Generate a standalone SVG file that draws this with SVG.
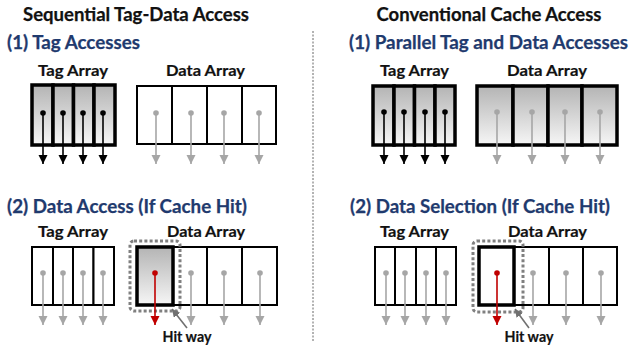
<svg xmlns="http://www.w3.org/2000/svg" width="631" height="350" viewBox="0 0 631 350">
  <style>
    .title { font-family: Lato, "Liberation Sans", sans-serif; font-weight: bold; font-size: 18px; fill: #111; text-anchor: middle; stroke: #111; stroke-width: 0.25; }
    .step { font-family: Lato, "Liberation Sans", sans-serif; font-weight: bold; font-size: 18px; fill: #1F3A6E; stroke: #1F3A6E; stroke-width: 0.25; }
    .label { font-family: Lato, "Liberation Sans", sans-serif; font-weight: bold; font-size: 15.5px; fill: #111; text-anchor: middle; stroke: #111; stroke-width: 0.2; }
    .cell-thick { stroke: #000; stroke-width: 3.5; }
    .cell-thin { stroke: #000; stroke-width: 2; fill: #fff; }
    .shade { fill: url(#shade); }
    .w-black { stroke: #000; stroke-width: 1.6; marker-end: url(#tri-black); }
    .w-gray { stroke: #A6A6A6; stroke-width: 1.6; marker-end: url(#tri-gray); }
    .w-red { stroke: #C00000; stroke-width: 1.6; marker-end: url(#tri-red); }
    .dot-black { fill: #000; }
    .dot-gray { fill: #A6A6A6; }
    .dot-red { fill: #C00000; }
    .hit-box { fill: none; stroke: #808080; stroke-width: 3; stroke-dasharray: 3 2.2; }
    .pointer { stroke: #707070; stroke-width: 1.6; marker-end: url(#tri-pointer); }
    .divider { stroke: #666; stroke-width: 1; stroke-dasharray: 2 1.5; }
  </style>
  <defs>
    <linearGradient id="shade" x1="0" y1="0" x2="0" y2="1">
      <stop offset="0" stop-color="#B4B4B4"/>
      <stop offset="1" stop-color="#F6F6F6"/>
    </linearGradient>
    <marker id="tri-black" viewBox="0 0 10 10" refX="10" refY="5" markerWidth="9" markerHeight="10" markerUnits="userSpaceOnUse" orient="auto">
      <path d="M0,0 L10,5 L0,10 z" fill="#000"/>
    </marker>
    <marker id="tri-gray" viewBox="0 0 10 10" refX="10" refY="5" markerWidth="9" markerHeight="10" markerUnits="userSpaceOnUse" orient="auto">
      <path d="M0,0 L10,5 L0,10 z" fill="#A6A6A6"/>
    </marker>
    <marker id="tri-red" viewBox="0 0 10 10" refX="10" refY="5" markerWidth="9" markerHeight="10" markerUnits="userSpaceOnUse" orient="auto">
      <path d="M0,0 L10,5 L0,10 z" fill="#C00000"/>
    </marker>
    <marker id="tri-pointer" viewBox="0 0 10 10" refX="10" refY="5" markerWidth="8" markerHeight="8" markerUnits="userSpaceOnUse" orient="auto">
      <path d="M0,0 L10,5 L0,10 z" fill="#707070"/>
    </marker>
  </defs>

  <!-- headings -->
  <g id="headings">
    <text class="title" x="136" y="21" textLength="226" lengthAdjust="spacingAndGlyphs">Sequential Tag-Data Access</text>
    <text class="title" x="489" y="21" textLength="225" lengthAdjust="spacingAndGlyphs">Conventional Cache Access</text>
    <text class="step" x="7" y="49" textLength="133" lengthAdjust="spacingAndGlyphs">(1) Tag Accesses</text>
    <text class="step" x="349" y="49" textLength="279" lengthAdjust="spacingAndGlyphs">(1) Parallel Tag and Data Accesses</text>
    <text class="step" x="7" y="213" textLength="240" lengthAdjust="spacingAndGlyphs">(2) Data Access (If Cache Hit)</text>
    <text class="step" x="350" y="213" textLength="260" lengthAdjust="spacingAndGlyphs">(2) Data Selection (If Cache Hit)</text>
  </g>

  <line class="divider" x1="313" y1="31" x2="313" y2="341"/>

  <!-- Sequential, step 1: tag array (accessed) -->
  <g id="seq1-tag">
    <text class="label" x="73" y="76" textLength="70" lengthAdjust="spacingAndGlyphs">Tag Array</text>
    <rect class="shade cell-thick" x="32" y="85" width="21" height="60"/>
    <rect class="shade cell-thick" x="53" y="85" width="20.5" height="60"/>
    <rect class="shade cell-thick" x="73.5" y="85" width="20.5" height="60"/>
    <rect class="shade cell-thick" x="94" y="85" width="21" height="60"/>
  </g>
  <!-- Sequential, step 1: data array (idle) -->
  <g id="seq1-data">
    <text class="label" x="205.5" y="76" textLength="79" lengthAdjust="spacingAndGlyphs">Data Array</text>
    <rect class="cell-thin" x="137" y="86" width="35" height="58"/>
    <rect class="cell-thin" x="172" y="86" width="35" height="58"/>
    <rect class="cell-thin" x="207" y="86" width="35" height="58"/>
    <rect class="cell-thin" x="242" y="86" width="34" height="58"/>
  </g>

  <!-- Conventional, step 1: tag array -->
  <g id="conv1-tag">
    <text class="label" x="414.5" y="76" textLength="69" lengthAdjust="spacingAndGlyphs">Tag Array</text>
    <rect class="shade cell-thick" x="373" y="86" width="21" height="59"/>
    <rect class="shade cell-thick" x="394" y="86" width="20.5" height="59"/>
    <rect class="shade cell-thick" x="414.5" y="86" width="20.5" height="59"/>
    <rect class="shade cell-thick" x="435" y="86" width="20" height="59"/>
  </g>
  <!-- Conventional, step 1: data array -->
  <g id="conv1-data">
    <text class="label" x="547" y="76" textLength="80" lengthAdjust="spacingAndGlyphs">Data Array</text>
    <rect class="shade cell-thick" x="477" y="86" width="36" height="59"/>
    <rect class="shade cell-thick" x="513" y="86" width="35" height="59"/>
    <rect class="shade cell-thick" x="548" y="86" width="34" height="59"/>
    <rect class="shade cell-thick" x="582" y="86" width="35" height="59"/>
  </g>

  <!-- Sequential, step 2: tag array -->
  <g id="seq2-tag">
    <text class="label" x="73" y="237" textLength="70" lengthAdjust="spacingAndGlyphs">Tag Array</text>
    <rect class="cell-thin" x="32" y="247" width="21" height="58"/>
    <rect class="cell-thin" x="53" y="247" width="20" height="58"/>
    <rect class="cell-thin" x="73" y="247" width="20.5" height="58"/>
    <rect class="cell-thin" x="93.5" y="247" width="20.5" height="58"/>
  </g>
  <!-- Sequential, step 2: data array with hit way -->
  <g id="seq2-data">
    <text class="label" x="206" y="237" textLength="78" lengthAdjust="spacingAndGlyphs">Data Array</text>
    <rect class="cell-thin" x="173" y="247" width="34" height="58"/>
    <rect class="cell-thin" x="207" y="247" width="35" height="58"/>
    <rect class="cell-thin" x="242" y="247" width="35" height="58"/>
    <rect class="shade cell-thick" x="137" y="247" width="36" height="58"/>
    <rect class="hit-box" x="130" y="241" width="50" height="70" rx="4"/>
  </g>

  <!-- Conventional, step 2: tag array -->
  <g id="conv2-tag">
    <text class="label" x="414.5" y="237" textLength="69" lengthAdjust="spacingAndGlyphs">Tag Array</text>
    <rect class="cell-thin" x="375" y="247" width="20" height="58"/>
    <rect class="cell-thin" x="395" y="247" width="21" height="58"/>
    <rect class="cell-thin" x="416" y="247" width="20" height="58"/>
    <rect class="cell-thin" x="436" y="247" width="20" height="58"/>
  </g>
  <!-- Conventional, step 2: data array with hit way -->
  <g id="conv2-data">
    <text class="label" x="547.5" y="237" textLength="79" lengthAdjust="spacingAndGlyphs">Data Array</text>
    <rect class="cell-thin" x="514" y="247" width="35" height="58"/>
    <rect class="cell-thin" x="549" y="247" width="34" height="58"/>
    <rect class="cell-thin" x="583" y="247" width="34" height="58"/>
    <rect class="cell-thick" fill="#fff" x="479" y="247" width="35" height="58"/>
    <rect class="hit-box" x="473" y="241" width="50" height="71" rx="4"/>
  </g>

  <!-- hit-way callouts -->
  <g id="seq2-hitway">
    <text class="label" x="187" y="342" font-size="14.5" textLength="49" lengthAdjust="spacingAndGlyphs">Hit way</text>
  </g>
  <g id="conv2-hitway">
    <text class="label" x="529" y="342" font-size="14.5" textLength="49" lengthAdjust="spacingAndGlyphs">Hit way</text>
  </g>

  <!-- connectors: way read-out wires -->
  <g id="connectors">
    <!-- sequential step 1 -->
    <line class="w-black" x1="43" y1="113" x2="43" y2="164"/>
    <line class="w-black" x1="63" y1="113" x2="63" y2="164"/>
    <line class="w-black" x1="83" y1="113" x2="83" y2="164"/>
    <line class="w-black" x1="103" y1="113" x2="103" y2="164"/>
    <line class="w-gray" x1="156" y1="113" x2="156" y2="164"/>
    <line class="w-gray" x1="191" y1="113" x2="191" y2="164"/>
    <line class="w-gray" x1="224" y1="113" x2="224" y2="164"/>
    <line class="w-gray" x1="259" y1="113" x2="259" y2="164"/>
    <!-- conventional step 1 -->
    <line class="w-black" x1="384" y1="112" x2="384" y2="164"/>
    <line class="w-black" x1="404" y1="112" x2="404" y2="164"/>
    <line class="w-black" x1="425" y1="112" x2="425" y2="164"/>
    <line class="w-black" x1="445" y1="112" x2="445" y2="164"/>
    <line class="w-gray" x1="497" y1="112" x2="497" y2="164"/>
    <line class="w-gray" x1="532" y1="112" x2="532" y2="164"/>
    <line class="w-gray" x1="565" y1="112" x2="565" y2="164"/>
    <line class="w-gray" x1="600" y1="112" x2="600" y2="164"/>
    <!-- sequential step 2 -->
    <line class="w-gray" x1="43" y1="273" x2="43" y2="325"/>
    <line class="w-gray" x1="63" y1="273" x2="63" y2="325"/>
    <line class="w-gray" x1="83" y1="273" x2="83" y2="325"/>
    <line class="w-gray" x1="103" y1="273" x2="103" y2="325"/>
    <line class="w-red" x1="155" y1="273" x2="155" y2="325"/>
    <line class="w-gray" x1="191" y1="273" x2="191" y2="325"/>
    <line class="w-gray" x1="224" y1="273" x2="224" y2="325"/>
    <line class="w-gray" x1="260" y1="273" x2="260" y2="325"/>
    <!-- conventional step 2 -->
    <line class="w-gray" x1="386" y1="273" x2="386" y2="325"/>
    <line class="w-gray" x1="405" y1="273" x2="405" y2="325"/>
    <line class="w-gray" x1="426" y1="273" x2="426" y2="325"/>
    <line class="w-gray" x1="446" y1="273" x2="446" y2="325"/>
    <line class="w-red" x1="497" y1="273" x2="497" y2="325"/>
    <line class="w-gray" x1="533" y1="273" x2="533" y2="325"/>
    <line class="w-gray" x1="566" y1="273" x2="566" y2="325"/>
    <line class="w-gray" x1="601" y1="273" x2="601" y2="325"/>
    <!-- hit-way pointers -->
    <line class="pointer" x1="187" y1="328" x2="172" y2="309"/>
    <line class="pointer" x1="529" y1="328" x2="515" y2="309"/>
  </g>

  <!-- wire taps -->
  <g id="taps">
    <circle class="dot-black" cx="43" cy="113" r="2.8"/>
    <circle class="dot-black" cx="63" cy="113" r="2.8"/>
    <circle class="dot-black" cx="83" cy="113" r="2.8"/>
    <circle class="dot-black" cx="103" cy="113" r="2.8"/>
    <circle class="dot-gray" cx="156" cy="113" r="2.8"/>
    <circle class="dot-gray" cx="191" cy="113" r="2.8"/>
    <circle class="dot-gray" cx="224" cy="113" r="2.8"/>
    <circle class="dot-gray" cx="259" cy="113" r="2.8"/>
    <circle class="dot-black" cx="384" cy="112" r="2.8"/>
    <circle class="dot-black" cx="404" cy="112" r="2.8"/>
    <circle class="dot-black" cx="425" cy="112" r="2.8"/>
    <circle class="dot-black" cx="445" cy="112" r="2.8"/>
    <circle class="dot-gray" cx="497" cy="112" r="2.8"/>
    <circle class="dot-gray" cx="532" cy="112" r="2.8"/>
    <circle class="dot-gray" cx="565" cy="112" r="2.8"/>
    <circle class="dot-gray" cx="600" cy="112" r="2.8"/>
    <circle class="dot-gray" cx="43" cy="273" r="2.8"/>
    <circle class="dot-gray" cx="63" cy="273" r="2.8"/>
    <circle class="dot-gray" cx="83" cy="273" r="2.8"/>
    <circle class="dot-gray" cx="103" cy="273" r="2.8"/>
    <circle class="dot-red" cx="155" cy="273" r="2.8"/>
    <circle class="dot-gray" cx="191" cy="273" r="2.8"/>
    <circle class="dot-gray" cx="224" cy="273" r="2.8"/>
    <circle class="dot-gray" cx="260" cy="273" r="2.8"/>
    <circle class="dot-gray" cx="386" cy="273" r="2.8"/>
    <circle class="dot-gray" cx="405" cy="273" r="2.8"/>
    <circle class="dot-gray" cx="426" cy="273" r="2.8"/>
    <circle class="dot-gray" cx="446" cy="273" r="2.8"/>
    <circle class="dot-red" cx="497" cy="273" r="2.8"/>
    <circle class="dot-gray" cx="533" cy="273" r="2.8"/>
    <circle class="dot-gray" cx="566" cy="273" r="2.8"/>
    <circle class="dot-gray" cx="601" cy="273" r="2.8"/>
  </g>
</svg>
